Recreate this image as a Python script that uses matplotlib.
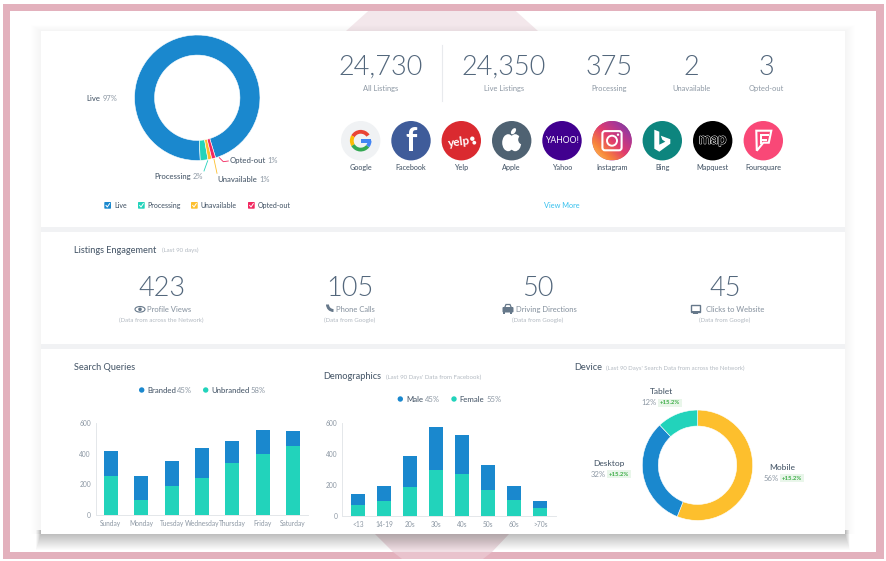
import numpy as np
import matplotlib
matplotlib.use("Agg")
import matplotlib.pyplot as plt
import matplotlib.patheffects as pe
from matplotlib import font_manager
from matplotlib.patches import (Circle, Ellipse, FancyBboxPatch, Polygon,
                                Rectangle, Wedge)

plt.rcParams['font.family'] = ['Lato', 'DejaVu Sans']

# listings donut
listing_labels = ["Live", "Processing", "Unavailable", "Opted-out"]
listing_share = [97, 2, 1, 1]

# numbers along the top
stat_values = ["24,730", "24,350", "375", "2", "3"]
stat_labels = ["All Listings", "Live Listings", "Processing", "Unavailable", "Opted-out"]

# engagement row
engage_values = ["423", "105", "50", "45"]
engage_labels = ["Profile Views", "Phone Calls", "Driving Directions", "Clicks to Website"]
engage_notes = ["(Data from across the Network)", "(Data from Google)",
                "(Data from Google)", "(Data from Google)"]

# search queries
days = ["Sunday", "Monday", "Tuesday", "Wednesday", "Thursday", "Friday", "Saturday"]
unbranded = [255, 97, 188, 242, 340, 398, 450]
branded = [164, 157, 163, 191, 140, 155, 93]

# demographics
ages = ["<13", "14-19", "20s", "30s", "40s", "50s", "60s", ">70s"]
female = [69, 95, 187, 292, 267, 168, 101, 49]
male = [69, 94, 200, 278, 253, 157, 90, 46]

# device donut
device_labels = ["Mobile", "Desktop", "Tablet"]
device_share = [56, 32, 12]

networks = ["Google", "Facebook", "Yelp", "Apple", "Yahoo", "Instagram", "Bing",
            "Mapquest", "Foursquare"]

W, H = 886, 561
BLUE, TEAL, YELLOW, RED = "#1a88ce", "#22d3bb", "#fdbf2d", "#f2275f"
DARK, MID, GREY, PALE = "#4b5b6c", "#53677c", "#8d98a4", "#b3bac2"
PINK = "#e3b1bd"

# "light" can resolve to the hairline cut, so look for the real Light file
light_files = [f.fname for f in font_manager.fontManager.ttflist
               if f.name == "Lato" and f.fname.endswith("Lato-Light.ttf")]
BIG = font_manager.FontProperties(fname=light_files[0]) if light_files else font_manager.FontProperties(family="Lato")

fig = plt.figure(figsize=(W / 100, H / 100), dpi=100, facecolor="white")

bg = fig.add_axes([0, 0, 1, 1], zorder=0)
bg.set_xlim(0, W)
bg.set_ylim(H, 0)
bg.axis("off")


def px_axes(left, top, right, bottom):
    return fig.add_axes([left / W, 1 - bottom / H, (right - left) / W, (bottom - top) / H],
                        zorder=1, facecolor="none")


def txt(x, y, s, size=6, color=DARK, ha="left", weight="normal", zorder=6):
    return bg.text(x, y, s, fontsize=size, color=color, ha=ha, va="center",
                   fontweight=weight, zorder=zorder)


def big(x, y, s):
    bg.text(x, y, s, fontproperties=BIG, fontsize=19.5, color=MID, ha="center", va="center", zorder=6)


# frame and hexagon behind the panel
bg.add_patch(Polygon([(376, 4), (508, 4), (538, 31), (346, 31)], fc="#f3e7eb", ec="none", zorder=1))
bg.add_patch(Polygon([(375, 534), (509, 534), (492, 552), (393, 552)], fc="#f0dfe4", ec="none", zorder=1))
for r in [(3, 4, 878, 7), (3, 552, 881, 7), (3, 4, 7, 555), (876, 4, 8, 555)]:
    bg.add_patch(Rectangle(r[:2], r[2], r[3], fc=PINK, ec="none", zorder=2))
bg.add_patch(Polygon([(402, 559), (483, 559), (492, 552), (393, 552)], fc="#e9c3cd", ec="none", zorder=2.1))

# soft shadow then the panel, heavier under it
for i in range(10, 0, -1):
    bg.add_patch(Rectangle((41 - i, 31 - i * 0.6), 804 + 2 * i, 503 + i * 0.6,
                           fc="black", ec="none", alpha=0.005, zorder=3))
for i in range(16, 0, -1):
    bg.add_patch(Rectangle((41 - i * 0.3, 530), 804 + i * 0.6, 4 + i,
                           fc="black", ec="none", alpha=0.016, zorder=3))
bg.add_patch(Rectangle((41, 31), 804, 503, fc="white", ec="none", zorder=4))
bg.add_patch(Rectangle((41, 227), 804, 5, fc="#f1f2f4", ec="none", zorder=4.5))
bg.add_patch(Rectangle((41, 344), 804, 5, fc="#f1f2f4", ec="none", zorder=4.5))

# listings donut
ax = px_axes(134.5, 35, 260, 160.5)
ax.pie(listing_share, colors=[BLUE, TEAL, YELLOW, RED], startangle=-73, radius=1,
       wedgeprops=dict(width=0.32, edgecolor="white", linewidth=0.4))
ax.set_xlim(-1, 1)
ax.set_ylim(-1, 1)

txt(86.7, 98.7, "Live", 5.6, DARK, weight="medium")
txt(102.3, 98.7, "97%", 5.4, GREY)
txt(154.7, 176, "Processing", 5.6, DARK, weight="medium")
txt(192.7, 176, "2%", 5.4, GREY)
txt(217.7, 179.3, "Unavailable", 5.6, DARK, weight="medium")
txt(259, 179.3, "1%", 5.4, GREY)
txt(229.7, 160.3, "Opted-out", 5.6, DARK, weight="medium")
txt(267.3, 160.3, "1%", 5.4, GREY)
bg.plot([207.7, 204], [160.7, 171], color=TEAL, lw=0.6, zorder=6)
bg.plot([214, 217], [159.3, 173.3], color=YELLOW, lw=0.6, zorder=6)
bg.plot([219.3, 223.3, 228.3], [157.7, 161.7, 161], color=RED, lw=0.6, zorder=6)

for x, tx, c, name in zip([104.3, 138, 191, 248], [114.3, 147.7, 201, 257.7],
                          [BLUE, TEAL, YELLOW, RED], listing_labels):
    bg.add_patch(FancyBboxPatch((x + 0.7, 202.7), 5.3, 5.3, boxstyle="round,pad=0.7",
                                fc=c, ec="none", zorder=6))
    bg.plot([x + 1.7, x + 3, x + 5.3], [205.4, 207, 203.6], color="white", lw=0.7, zorder=7)
    txt(tx, 205.4, name, 5, DARK, weight="medium")

# top numbers
for x, v, l in zip([381, 504, 608.7, 691.7, 766.7], stat_values, stat_labels):
    big(x, 67.5, v)
    txt(x, 88.7, l, 5.4, GREY, ha="center")
bg.plot([442.3, 442.3], [45, 101], color="#e8eaed", lw=0.8, zorder=6)

# network icons
icon_x = [360.7, 411, 461.3, 511.7, 562, 612, 662.3, 712.7, 763.3]
icon_c = ["#f0f2f4", "#3f5c9a", "#da2a30", "#4f6272", "#41008f", "#c1417e", "#0d857e",
          "#000000", "#f94877"]
IY = 140.7
for x, c, name in zip(icon_x, icon_c, networks):
    bg.add_patch(Circle((x, IY), 19.7, fc=c, ec="none", zorder=6))
    txt(x, 167.3, name, 5.2, DARK, ha="center", weight="medium")

# google
gx = icon_x[0]
for a1, a2, c in [(35, 150, "#e94335"), (150, 210, "#fbbb05"), (210, 322, "#34a853"), (322, 360, "#4285f4")]:
    bg.add_patch(Wedge((gx, IY), 10.8, -a2, -a1, width=3.8, fc=c, ec="none", zorder=7))
bg.add_patch(Rectangle((gx, IY - 1.8), 10.8, 3.8, fc="#4285f4", ec="none", zorder=7))
# facebook
bg.text(icon_x[1] + 0.5, IY + 1, "f", fontsize=23, color="white", ha="center", va="center",
        fontweight="bold", zorder=7)
# yelp
bg.text(icon_x[2] - 2, IY + 1, "yelp", fontsize=8.5, color="white", ha="center", va="center",
        fontweight="bold", zorder=7, rotation=8)
bg.add_patch(Circle((icon_x[2] + 11, IY - 2), 2.2, fc="white", ec="none", zorder=7))
bg.add_patch(Circle((icon_x[2] + 13, IY + 2), 1.9, fc="white", ec="none", zorder=7))
# apple
ax_ = icon_x[3]
bg.add_patch(Ellipse((ax_ - 3.5, IY + 2), 12, 17, fc="white", ec="none", zorder=7))
bg.add_patch(Ellipse((ax_ + 3.5, IY + 2), 12, 17, fc="white", ec="none", zorder=7))
bg.add_patch(Circle((ax_ + 11.5, IY - 1), 5, fc=icon_c[3], ec="none", zorder=8))
bg.add_patch(Ellipse((ax_ + 1.8, IY - 9.5), 4, 7, angle=35, fc="white", ec="none", zorder=7))
# yahoo
bg.text(icon_x[4], IY, "YAHOO!", fontsize=6.2, color="white", ha="center", va="center", zorder=7)
# instagram
gx = icon_x[5]
stops = np.array([[253, 205, 90], [247, 130, 60], [224, 60, 110], [170, 55, 150], [85, 70, 170]]) / 255
t = np.linspace(0, 1, 80)
u, v = np.meshgrid(t, t)
mix = np.clip((u + (1 - v)) / 2, 0, 1) * (len(stops) - 1)
grad = np.stack([np.interp(mix, range(len(stops)), stops[:, k]) for k in range(3)], axis=-1)
im = bg.imshow(grad, extent=[gx - 19.7, gx + 19.7, IY + 19.7, IY - 19.7], zorder=6.5, aspect="auto")
im.set_clip_path(Circle((gx, IY), 19.7, transform=bg.transData))
bg.set_xlim(0, W)
bg.set_ylim(H, 0)
bg.add_patch(FancyBboxPatch((gx - 7, IY - 7), 14, 14, boxstyle="round,pad=2.6", fc="none", ec="white", lw=1.5, zorder=7))
bg.add_patch(Circle((gx, IY), 5, fc="none", ec="white", lw=1.4, zorder=7))
bg.add_patch(Circle((gx + 6, IY - 6), 1.2, fc="white", ec="none", zorder=7))
# bing
gx = icon_x[6]
pts = [(-8, -11), (-3, -9), (-3, 4), (3, 1), (0, -1), (-1.5, -5), (8, -1.5), (8, 3), (-3, 11), (-8, 8)]
bg.add_patch(Polygon([(gx + a, IY + b) for a, b in pts], fc="white", ec="none", zorder=7))
# mapquest
bg.text(icon_x[7], IY - 1, "map", fontsize=10.5, color="black", ha="center", va="center", zorder=7,
        path_effects=[pe.withStroke(linewidth=0.9, foreground="white"), pe.Normal()])
# foursquare
gx = icon_x[8]
pts = [(-7, -10), (8, -10), (5.5, 2), (0, 2), (-6.5, 10)]
bg.add_patch(Polygon([(gx + a, IY + b) for a, b in pts], fc="none", ec="white", lw=1.5, zorder=7))
bg.add_patch(Rectangle((gx - 3, IY - 6.5), 8.5, 2.2, fc="white", ec="none", zorder=7))
bg.add_patch(Rectangle((gx - 3, IY - 2), 6.5, 2.2, fc="white", ec="none", zorder=7))
bg.add_patch(Rectangle((gx - 3, IY - 6.5), 1.6, 10, fc="white", ec="none", zorder=7))

txt(562, 205.3, "View More", 5.3, "#35c0ee", ha="center")

# engagement
txt(74, 250, "Listings Engagement", 6.6, DARK, weight="medium")
txt(162, 250.5, "(Last 90 days)", 4.4, PALE)
for x, v, n in zip([161.7, 350, 538, 725], engage_values, engage_notes):
    big(x, 288, v)
    txt(x, 320.7, n, 4.4, PALE, ha="center")
for x, l in zip([147, 335.7, 515.7, 705.7], engage_labels):
    txt(x, 309.3, l, 5.5, GREY, weight="medium")

IC = "#66788a"
# eye
bg.add_patch(Ellipse((140, 309.3), 10, 5.6, fc="none", ec=IC, lw=0.8, zorder=6))
bg.add_patch(Circle((140, 309.3), 1.8, fc=IC, ec="none", zorder=6))
# phone
bg.add_patch(Wedge((333.5, 304.5), 7.5, 90, 180, width=3, fc=IC, ec="none", zorder=6))
# car
bg.add_patch(FancyBboxPatch((503.5, 308), 9, 3.5, boxstyle="round,pad=1", fc=IC, ec="none", zorder=6))
bg.add_patch(Polygon([(504.5, 308), (506, 304.5), (510, 304.5), (511.5, 308)], fc="none", ec=IC, lw=0.9, zorder=6))
bg.add_patch(Rectangle((503.5, 312), 2, 2, fc=IC, ec="none", zorder=6))
bg.add_patch(Rectangle((510.5, 312), 2, 2, fc=IC, ec="none", zorder=6))
# monitor
bg.add_patch(Rectangle((691, 305), 9.5, 6.5, fc="none", ec=IC, lw=1, zorder=6))
bg.add_patch(Rectangle((691, 310.5), 9.5, 1.5, fc=IC, ec="none", zorder=6))
bg.add_patch(Rectangle((693.5, 312.8), 4.5, 1, fc=IC, ec="none", zorder=6))


def legend_item(x_dot, x_name, x_pct, y, name, pct, color):
    bg.add_patch(Circle((x_dot, y), 2.7, fc=color, ec="none", zorder=6))
    txt(x_name, y, name, 5.6, DARK, weight="medium")
    txt(x_pct, y, pct, 5.5, GREY)


def style_bars(ax):
    ax.set_ylim(0, 600)
    ax.set_yticks([0, 200, 400, 600])
    for s in ["top", "right"]:
        ax.spines[s].set_visible(False)
    for s in ["left", "bottom"]:
        ax.spines[s].set_color("#e4e7ea")
        ax.spines[s].set_linewidth(0.7)
    ax.tick_params(length=0, labelsize=4.8, labelcolor=GREY, pad=3.5)


# search queries
txt(74, 367, "Search Queries", 6.6, DARK, weight="medium")
legend_item(141.7, 147.7, 177.3, 390, "Branded", "45%", BLUE)
legend_item(205.7, 211.7, 250.3, 390, "Unbranded", "58%", TEAL)

ax = px_axes(95.7, 422.7, 308.3, 515.3)
xs = np.arange(len(days))
ax.bar(xs, unbranded, width=0.46, color=TEAL)
ax.bar(xs, branded, width=0.46, bottom=unbranded, color=BLUE)
ax.set_xlim(-0.5, 6.5)
ax.set_xticks(xs, days)
style_bars(ax)

# demographics
txt(323.3, 376, "Demographics", 6.6, DARK, weight="medium")
txt(386, 377, "(Last 90 Days' Data from Facebook)", 4.4, PALE)
legend_item(400.3, 406, 425, 399, "Male", "45%", BLUE)
legend_item(454, 459.7, 486.3, 399, "Female", "55%", TEAL)

ax = px_axes(342.3, 422.7, 555.7, 515.7)
xs = np.arange(len(ages))
ax.bar(xs, female, width=0.54, color=TEAL)
ax.bar(xs, male, width=0.54, bottom=female, color=BLUE)
ax.set_xlim(-0.615, 7.59)
ax.set_xticks(xs, ages)
style_bars(ax)

# device donut
txt(574, 367, "Device", 6.6, DARK, weight="medium")
txt(606.3, 368, "(Last 90 Days' Search Data from across the Network)", 4.35, PALE)

ax = px_axes(642.3, 410, 752.7, 520.5)
ax.pie(device_share, colors=[YELLOW, BLUE, TEAL], startangle=90, counterclock=False, radius=1,
       wedgeprops=dict(width=0.29, edgecolor="white", linewidth=0.4))
ax.set_xlim(-1, 1)
ax.set_ylim(-1, 1)

device_pos = [(781.7, 467, 763.7, 478, 780), (609.3, 463.7, 591, 474.3, 607), (661.3, 391, 641.7, 402.7, 657.7)]
for name, share, (nx, ny, px, py, bx) in zip(device_labels, device_share, device_pos):
    txt(nx, ny, name, 6, DARK, ha="center", weight="medium")
    txt(px, py, f"{share}%", 5.6, GREY)
    bg.add_patch(Rectangle((bx, py - 3.9), 24.5, 7.8, fc="#e9f6ea", ec="none", zorder=6))
    txt(bx + 12.2, py, "+15.2%", 4.3, "#3fae49", ha="center", weight="bold", zorder=7)

fig.savefig("out.png", dpi=100)
